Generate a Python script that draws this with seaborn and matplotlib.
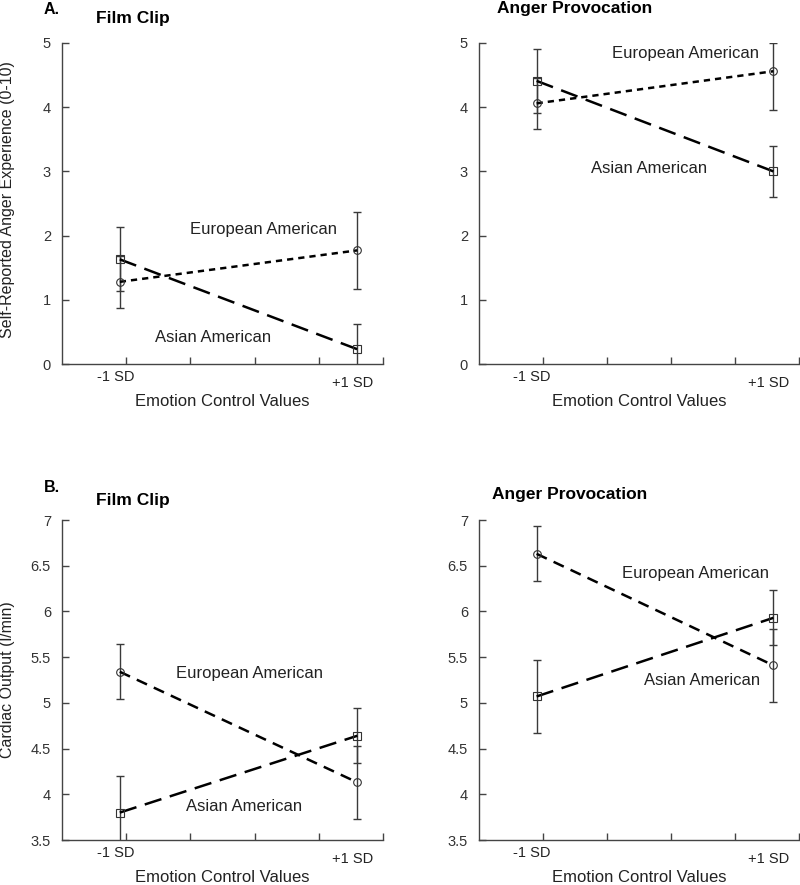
import matplotlib
matplotlib.use("Agg")
import matplotlib.pyplot as plt
import seaborn as sns
import pandas as pd
import numpy as np

# ---------------- data ----------------
groups = ["European American", "Asian American"]
conditions = ["-1 SD", "+1 SD"]

# Panel A: self-reported anger (0-10)
a_film_euro = [1.28, 1.77]
a_film_asian = [1.63, 0.23]
a_film_euro_err = [0.40, 0.60]
a_film_asian_err = [0.50, 0.40]

a_prov_euro = [4.06, 4.56]
a_prov_asian = [4.41, 3.00]
a_prov_euro_err_lo = [0.40, 0.61]
a_prov_euro_err_hi = [0.40, 0.44]
a_prov_asian_err = [0.50, 0.40]

# Panel B: cardiac output (l/min)
b_film_euro = [5.34, 4.13]
b_film_asian = [3.80, 4.64]
b_film_euro_err = [0.30, 0.40]
b_film_asian_err = [0.40, 0.30]

b_prov_euro = [6.63, 5.41]
b_prov_asian = [5.07, 5.93]
b_prov_euro_err = [0.30, 0.40]
b_prov_asian_err = [0.40, 0.30]

yticks_a = [0, 1, 2, 3, 4, 5]
yticks_b = [3.5, 4, 4.5, 5, 5.5, 6, 6.5, 7]
ytick_labels_b = ["3.5", "4", "4.5", "5", "5.5", "6", "6.5", "7"]

# ---------------- style ----------------
sns.set_theme(style="ticks")
plt.rcParams["font.family"] = ["Liberation Sans", "DejaVu Sans"]

AX_COL = "#444444"
TXT_COL = "#222222"

fig = plt.figure(figsize=(8.0, 8.85), dpi=100)
W, H = 800.0, 885.0


def make_ax(x0, y_top, x1, y_bot):
    return fig.add_axes([x0 / W, 1 - y_bot / H, (x1 - x0) / W, (y_bot - y_top) / H])


ax_al = make_ax(62, 43, 383, 364)
ax_ar = make_ax(479, 43, 799, 364)
ax_bl = make_ax(62, 520, 383, 840)
ax_br = make_ax(479, 520, 799, 840)

xpos = {"-1 SD": 0.9, "+1 SD": 4.6}


def draw(ax, euro, asian, euro_lo, euro_hi, asian_lo, asian_hi, ylim, yticks, ylabels,
         euro_dash, asian_dash, labels_pos):
    xs = [xpos[c] for c in conditions]
    df = pd.DataFrame({
        "x": xs + xs,
        "y": list(euro) + list(asian),
        "group": [groups[0]] * 2 + [groups[1]] * 2,
    })
    # error bars
    ax.errorbar(xs, euro, yerr=[euro_lo, euro_hi], fmt="none", ecolor="#3a3a3a",
                elinewidth=1.0, capsize=3, capthick=1.0, zorder=2, clip_on=True)
    ax.errorbar(xs, asian, yerr=[asian_lo, asian_hi], fmt="none", ecolor="#3a3a3a",
                elinewidth=1.0, capsize=3, capthick=1.0, zorder=2, clip_on=True)
    sns.lineplot(data=df, x="x", y="y", style="group", hue="group",
                 palette={groups[0]: "black", groups[1]: "black"},
                 dashes={groups[0]: euro_dash, groups[1]: asian_dash},
                 markers={groups[0]: "o", groups[1]: "s"},
                 markersize=5.5, markerfacecolor="none", mec="#333333", mew=0.8,
                 linewidth=1.8, legend=False, ax=ax, zorder=3)
    ax.set_xlim(0, 5)
    ax.set_ylim(*ylim)
    ax.set_xticks([1, 2, 3, 4, 5])
    ax.set_xticklabels([])
    ax.set_yticks(yticks)
    ax.set_yticklabels(ylabels)
    ax.tick_params(axis="both", direction="in", length=5, width=1, color=AX_COL,
                   labelcolor="#333333", labelsize=10.5)
    ax.tick_params(axis="y", pad=8)
    for s in ["top", "right"]:
        ax.spines[s].set_visible(False)
    for s in ["left", "bottom"]:
        ax.spines[s].set_color(AX_COL)
        ax.spines[s].set_linewidth(1.0)
    ax.set_xlabel("")
    ax.set_ylabel("")
    # condition labels
    tr = ax.get_xaxis_transform()
    ax.text(0.83, -0.04, "-1 SD", transform=tr, ha="center", va="center",
            fontsize=10.5, color=TXT_COL)
    ax.text(4.52, -0.06, "+1 SD", transform=tr, ha="center", va="center",
            fontsize=10.5, color=TXT_COL)
    ax.text(0.5, -0.118, "Emotion Control Values", transform=ax.transAxes,
            ha="center", va="center", fontsize=12, color=TXT_COL)
    # series labels
    (ex, ey), (axx, ayy) = labels_pos
    ax.text(ex, ey, groups[0], ha="left", va="center", fontsize=12, color=TXT_COL)
    ax.text(axx, ayy, groups[1], ha="left", va="center", fontsize=12, color=TXT_COL)


euro_dash_a = (2.5, 2.0)
euro_dash_b = (4.5, 3.0)
asian_dash = (7.0, 3.5)

draw(ax_al, a_film_euro, a_film_asian, a_film_euro_err, a_film_euro_err,
     a_film_asian_err, a_film_asian_err, (0, 5), yticks_a, [str(t) for t in yticks_a],
     euro_dash_a, asian_dash, ((2.0, 2.1), (1.45, 0.42)))
draw(ax_ar, a_prov_euro, a_prov_asian, a_prov_euro_err_lo, a_prov_euro_err_hi,
     a_prov_asian_err, a_prov_asian_err, (0, 5), yticks_a, [str(t) for t in yticks_a],
     euro_dash_a, asian_dash, ((2.08, 4.83), (1.75, 3.04)))
draw(ax_bl, b_film_euro, b_film_asian, b_film_euro_err, b_film_euro_err,
     b_film_asian_err, b_film_asian_err, (3.5, 7), yticks_b, ytick_labels_b,
     euro_dash_b, asian_dash, ((1.78, 5.32), (1.93, 3.87)))
draw(ax_br, b_prov_euro, b_prov_asian, b_prov_euro_err, b_prov_euro_err,
     b_prov_asian_err, b_prov_asian_err, (3.5, 7), yticks_b, ytick_labels_b,
     euro_dash_b, asian_dash, ((2.23, 6.41), (2.58, 5.24)))

# y-axis labels
fig.text(8 / W, 1 - 200 / H, "Self-Reported Anger Experience (0-10)", rotation=90,
         ha="center", va="center", fontsize=11.5, color=TXT_COL)
fig.text(8 / W, 1 - 680 / H, "Cardiac Output (l/min)", rotation=90,
         ha="center", va="center", fontsize=11.5, color=TXT_COL)

# panel titles
fig.text(52 / W, 1 - 10 / H, "A.", ha="center", va="center", fontsize=11.5,
         fontweight="bold", color="black")
fig.text(133 / W, 1 - 18 / H, "Film Clip", ha="center", va="center", fontsize=12.5,
         fontweight="bold", color="black")
fig.text(575 / W, 1 - 8 / H, "Anger Provocation", ha="center", va="center",
         fontsize=12.5, fontweight="bold", color="black")
fig.text(52 / W, 1 - 488 / H, "B.", ha="center", va="center", fontsize=11.5,
         fontweight="bold", color="black")
fig.text(133 / W, 1 - 500 / H, "Film Clip", ha="center", va="center", fontsize=12.5,
         fontweight="bold", color="black")
fig.text(570 / W, 1 - 495 / H, "Anger Provocation", ha="center", va="center",
         fontsize=12.5, fontweight="bold", color="black")

fig.savefig("out.png", dpi=100, facecolor="white")
